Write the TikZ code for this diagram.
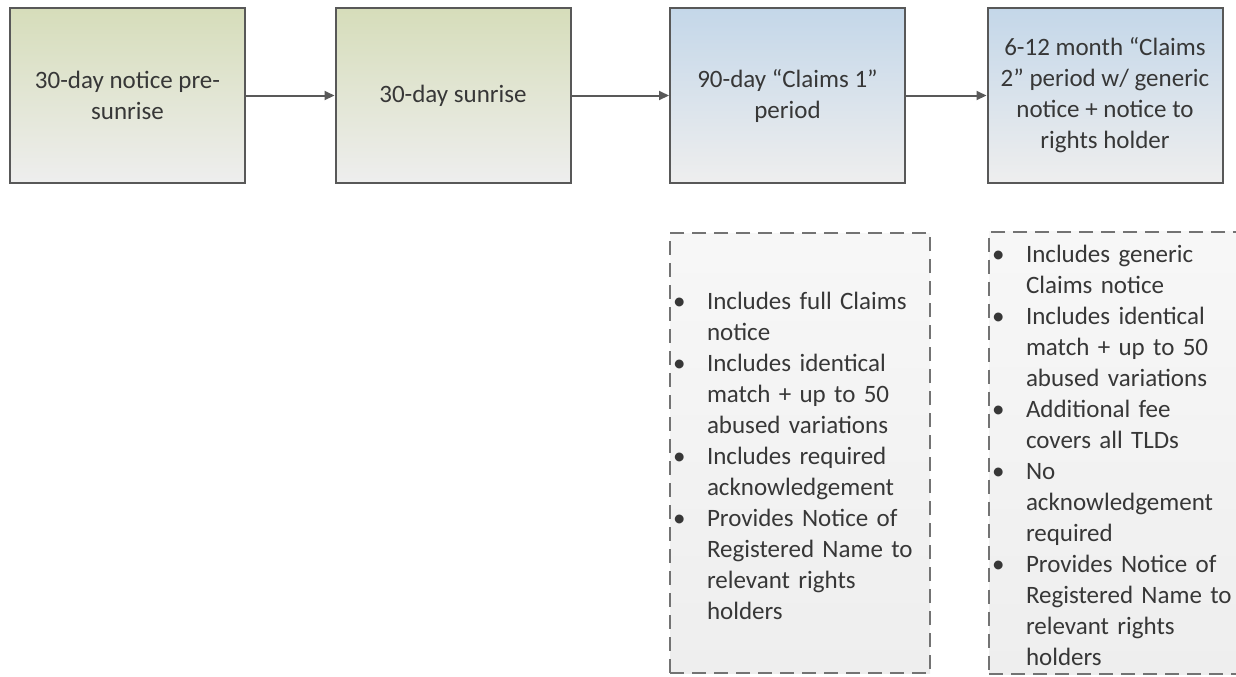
\documentclass[tikz,border=0pt]{standalone}
\usepackage{fontspec}
\setmainfont{Carlito}
\usetikzlibrary{arrows.meta}

\definecolor{olivetop}{RGB}{214,221,186}
\definecolor{bluetop}{RGB}{196,215,233}
\definecolor{boxbottom}{RGB}{238,238,238}
\definecolor{boxline}{RGB}{88,88,88}
\definecolor{textgray}{RGB}{55,55,55}

\newenvironment{claimlist}{\begin{list}{\textbullet}{\setlength{\leftmargin}{15.5pt}\setlength{\labelwidth}{15.5pt}\setlength{\labelsep}{0pt}\setlength{\itemsep}{0pt}\setlength{\parsep}{0pt}\setlength{\topsep}{0pt}\setlength{\partopsep}{0pt}\renewcommand{\makelabel}[1]{\hspace{-1.5pt}##1\hfil}}}{\end{list}\vspace{4pt}}

\begin{document}
\begin{tikzpicture}[x=0.5pt, y=-0.5pt,
	every node/.style={font=\fontsize{12.5pt}{15.5pt}\selectfont, text=textgray},
	phase/.style={rectangle, draw=boxline, line width=1pt, minimum width=117.5pt, minimum height=87.5pt, align=center, inner sep=2pt},
	greenbox/.style={phase, top color=olivetop, bottom color=boxbottom},
	bluebox/.style={phase, top color=bluetop, bottom color=boxbottom},
	notebox/.style={rectangle, draw=black!55, line width=0.9pt, dash pattern=on 7pt off 4pt, top color=white!97!black, bottom color=boxbottom, text width=124pt, minimum height=220pt, inner xsep=3pt, inner ysep=0pt, align=left},
	link/.style={-{Triangle[length=5pt, width=4.5pt]}, line width=1pt, color=black!65}]

	\useasboundingbox (0,0) rectangle (1236,676);

	\node[greenbox](presunrise) at (127.5,95.5){30-day notice pre-\\sunrise};
	\node[greenbox](sunrise) at (453,95.5){30-day sunrise};
	\node[bluebox](claimsone) at (787.5,95.5){90-day “Claims 1”\\period};
	\node[bluebox](claimstwo) at (1105,95.5){6-12 month “Claims\\2” period w/ generic\\notice + notice to\\rights holder};

	\draw [link] (presunrise) -- (sunrise);
	\draw [link] (sunrise) -- (claimsone);
	\draw [link] (claimsone) -- (claimstwo);

	\node[notebox](notesone) at (800,453){%
		\begin{claimlist}
			\item Includes full Claims\\notice
			\item Includes identical\\match + up to 50\\abused variations
			\item Includes required\\acknowledgement
			\item Provides Notice of\\Registered Name to\\relevant rights\\holders
		\end{claimlist}};
	\node[notebox](notestwo) at (1119,453){%
		\begin{claimlist}
			\item Includes generic\\Claims notice
			\item Includes identical\\match + up to 50\\abused variations
			\item Additional fee\\covers all TLDs
			\item No\\acknowledgement\\required
			\item Provides Notice of\\Registered Name to\\relevant rights\\holders
		\end{claimlist}};

\end{tikzpicture}
\end{document}
